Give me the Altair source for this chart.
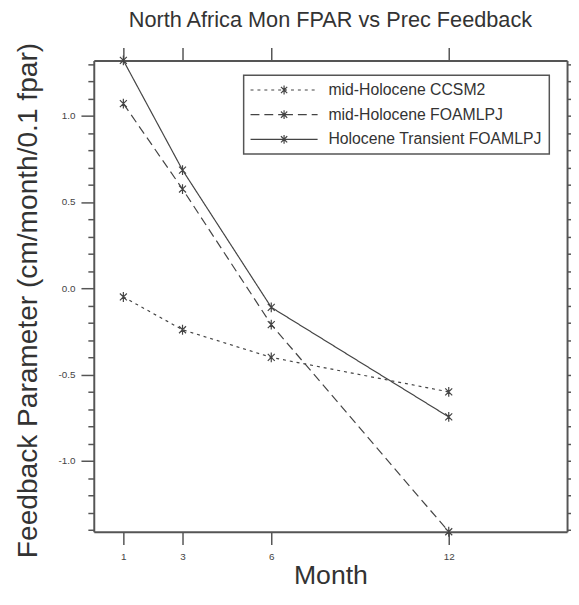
import math
import altair as alt
import pandas as pd

# ---------------- data ----------------
months = [1, 3, 6, 12]
series_names = ["mid-Holocene CCSM2", "mid-Holocene FOAMLPJ", "Holocene Transient FOAMLPJ"]
ccsm2_mh = [-0.05, -0.24, -0.40, -0.60]
foam_mh = [1.07, 0.575, -0.21, -1.41]
foam_tr = [1.32, 0.685, -0.11, -0.745]

x_ticks = [1, 3, 6, 12]
x_range = [0, 16]
y_ticks = [-1.4, -1.3, -1.2, -1.1, -1.0, -0.9, -0.8, -0.7, -0.6, -0.5, -0.4, -0.3, -0.2, -0.1,
           0.0, 0.1, 0.2, 0.3, 0.4, 0.5, 0.6, 0.7, 0.8, 0.9, 1.0, 1.1, 1.2, 1.3]

rows = []
for name, vals in zip(series_names, [ccsm2_mh, foam_mh, foam_tr]):
    for m, v in zip(months, vals):
        rows.append({"month": m, "value": v, "series": name})
df = pd.DataFrame(rows)

all_vals = ccsm2_mh + foam_mh + foam_tr
y_domain = [min(all_vals), max(all_vals)]

# ---------------- style ----------------
FONT = "Liberation Sans"
INK = "#444444"
FRAME = "#555555"


def asterisk(cx, r, seg=None):
    parts = []
    for ang in (90, 270, 45, 135, 225, 315):
        dx, dy = math.cos(math.radians(ang)), math.sin(math.radians(ang))
        if seg is None:
            parts.append(f"M{cx:.3f},0L{cx + r * dx:.3f},{r * dy:.3f}")
        else:
            parts.append(f"M{cx:.3f},0L{cx + seg * dx:.3f},{seg * dy:.3f}")
            parts.append(f"M{cx + seg * dx:.3f},{seg * dy:.3f}L{cx + r * dx:.3f},{r * dy:.3f}")
    return "".join(parts)


marker_path = asterisk(0, 1)
legend_path = "M-8,0L26,0M26,0L60,0" + asterisk(26, 4.5, seg=3)

major_test = "abs(datum.value * 2 - round(datum.value * 2)) < 0.001"
tick_size = {"condition": {"test": major_test, "value": 13}, "value": 6}
y_label_expr = f"{major_test} ? replace(format(datum.value, '.1f'), '\u2212', '-') : ''"

common_axis = dict(domainColor=FRAME, domainWidth=2, tickColor=FRAME, tickWidth=1.5,
                   grid=False, labelFont=FONT, labelColor=INK, labelFontSize=10,
                   titleFont=FONT, titleColor="#333333", titleFontWeight="normal")

x_scale = alt.Scale(domain=x_range, nice=False, zero=False)
y_scale = alt.Scale(domain=y_domain, nice=False, zero=False)

x_bottom = alt.X("month:Q", scale=x_scale,
                 axis=alt.Axis(orient="bottom", values=x_ticks, format="d", tickSize=13,
                               labelPadding=7, title="Month", titleFontSize=27,
                               titleBaseline="alphabetic", titleAlign="center",
                               titleX=240, titleY=52, **common_axis))
y_left = alt.Y("value:Q", scale=y_scale,
               axis=alt.Axis(orient="left", values=y_ticks, tickSize=tick_size,
                             labelExpr=y_label_expr, labelPadding=6, labelOverlap=False,
                             title="Feedback Parameter (cm/month/0.1 fpar)", titleFontSize=28.5,
                             titleAngle=270, titleBaseline="alphabetic", titleAlign="center",
                             titleX=-58, titleY=243, **common_axis))

x_top = alt.X("month:Q", scale=x_scale,
              axis=alt.Axis(orient="top", values=x_ticks, tickSize=13, labels=False,
                            title=None, **common_axis))
y_right = alt.Y("value:Q", scale=y_scale,
                axis=alt.Axis(orient="right", values=y_ticks, tickSize=tick_size, labels=False,
                              title=None, **common_axis))

base = alt.Chart(df)

lines = base.mark_line(color=INK, strokeWidth=1.2).encode(
    x=x_bottom,
    y=y_left,
    strokeDash=alt.StrokeDash(
        "series:N",
        scale=alt.Scale(domain=series_names, range=[[3, 4], [9, 5], [1, 0]]),
        legend=alt.Legend(title=None, orient="none", legendX=152, legendY=15,
                          direction="vertical", padding=7, strokeColor=FRAME,
                          fillColor="white", symbolType=legend_path, symbolSize=4,
                          symbolStrokeWidth=1.2, symbolStrokeColor=INK,
                          labelFont=FONT, labelFontSize=16, labelColor="#333333",
                          labelOffset=63, labelLimit=400, rowPadding=9),
    ),
)

points = base.mark_point(shape=marker_path, size=100, filled=False, color=INK,
                         strokeWidth=1.2, opacity=1).encode(x=x_bottom, y=y_left)

frame = base.mark_point(opacity=0).encode(x=x_top, y=y_right)

chart = (
    alt.layer(alt.layer(lines, points), frame)
    .resolve_scale(x="independent", y="independent")
    .properties(
        width=480,
        height=478,
        title=alt.TitleParams(text="North Africa Mon FPAR vs Prec Feedback", fontSize=22,
                              font=FONT, color="#333333", fontWeight="normal",
                              anchor="middle", offset=11),
        autosize=alt.AutoSizeParams(type="none"),
        padding={"left": 87, "top": 49, "right": 4, "bottom": 62},
    )
    .configure(background="white")
    .configure_view(strokeWidth=0)
    .configure_legend(strokeWidth=1.5)
)

chart.save("out.html", embed_options={"renderer": "svg", "actions": False})
